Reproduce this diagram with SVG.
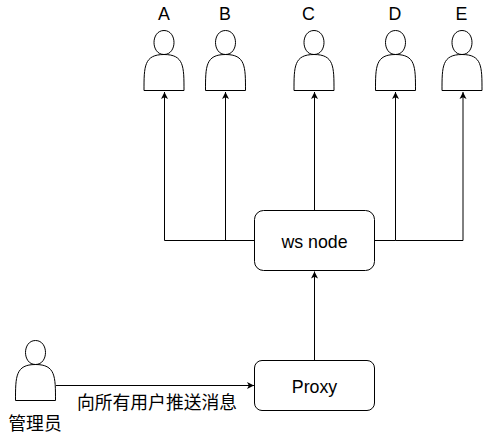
<svg xmlns="http://www.w3.org/2000/svg" width="483" height="433" viewBox="0 0 483 433">
<style>
.s{fill:#fff;stroke:#000;stroke-width:1}
.c{fill:none;stroke:#000;stroke-width:1}
.t{font-family:"Liberation Sans","Noto Sans CJK SC",sans-serif;font-size:17.8px;fill:#000;text-anchor:middle}
</style>
<defs>
<marker id="a" markerUnits="userSpaceOnUse" markerWidth="10" markerHeight="10" refX="7" refY="4" orient="auto"><path d="M0 0.500L7 4L0 7.500L1.800 4Z" fill="#000"/></marker>
<path id="actor" class="s" d="M0 60C0 36 0 24 20 24C6.670 24 6.670 0 20 0C33.330 0 33.330 24 20 24C40 24 40 36 40 60Z"/>
</defs>
<g id="connectors">
<path class="c" marker-end="url(#a)" d="M254.500 240.500H164.500V92"/>
<path class="c" marker-end="url(#a)" d="M225.500 240.500V92"/>
<path class="c" marker-end="url(#a)" d="M314.500 210.500V92"/>
<path class="c" marker-end="url(#a)" d="M374.500 240.500H395.500V92"/>
<path class="c" marker-end="url(#a)" d="M395.500 240.500H463V92"/>
<path class="c" marker-end="url(#a)" d="M314.500 360.500V271.500"/>
<path class="c" marker-end="url(#a)" d="M56 385.500H254"/>
</g>
<g id="actor-a"><use href="#actor" x="144" y="30.500"/><text class="t" x="164" y="20">A</text></g>
<g id="actor-b"><use href="#actor" x="205.500" y="30.500"/><text class="t" x="225" y="20">B</text></g>
<g id="actor-c"><use href="#actor" x="294" y="30.500"/><text class="t" x="308.500" y="20">C</text></g>
<g id="actor-d"><use href="#actor" x="375.500" y="30.500"/><text class="t" x="395" y="20">D</text></g>
<g id="actor-e"><use href="#actor" x="442" y="30.500"/><text class="t" x="461.500" y="20">E</text></g>
<g id="ws-node"><rect class="s" x="254.500" y="210.500" width="120" height="60" rx="9" ry="9"/><text class="t" x="314.500" y="248">ws node</text></g>
<g id="proxy"><rect class="s" x="254.500" y="360.500" width="120" height="50" rx="7.500" ry="7.500"/><text class="t" x="314.500" y="392.500">Proxy</text></g>
<g id="admin"><use href="#actor" x="15.500" y="340.500"/><text class="t" x="35" y="430">管理员</text></g>
<g id="label"><text class="t" x="157" y="409">向所有用户推送消息</text></g>
</svg>
